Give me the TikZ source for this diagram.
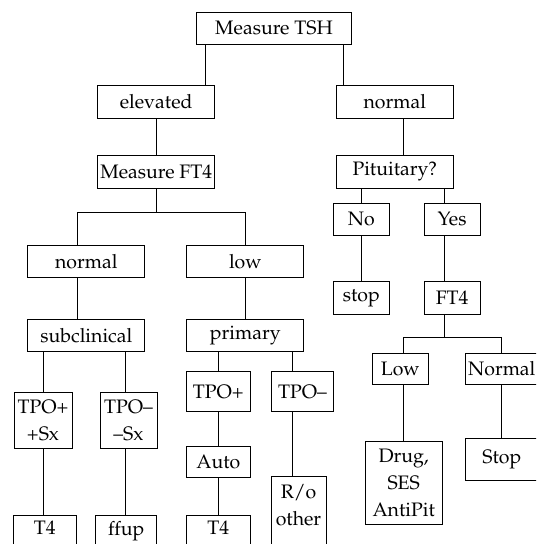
\documentclass[tikz,border=0pt]{standalone}
\usepackage[T1]{fontenc}
\usepackage{mathpazo}
\usetikzlibrary{calc}

% keeps the first line at the top of a box that runs off the page
\newcommand{\tailstrut}{\rule[-40pt]{0pt}{40pt}}

\begin{document}
\begin{tikzpicture}[x=1pt,y=-1pt]

% ----------------------------
% Styles
% ----------------------------
\tikzset{
	box/.style={draw=black,line width=0.8pt,inner xsep=2pt,inner ysep=6pt,align=center,font=\fontsize{19.5}{27}\selectfont},
	widebox/.style={box,minimum width=117pt,minimum height=32.4pt},
	smallbox/.style={box,minimum width=56pt,minimum height=32.2pt},
	cutbox/.style={box,anchor=north},
	wire/.style={line width=0.8pt}
}

\useasboundingbox (0,0) rectangle (536,544);
\clip (0,0) rectangle (536,544);

% ============================================================
% TOP: TSH and its two outcomes
% ============================================================
\node[box,minimum width=155pt,minimum height=32.4pt] (tsh) at (274,28.2) {Measure TSH};
\node[widebox] (elev) at (156.2,101.8) {elevated};
\node[widebox] (norm) at (394.8,101.8) {normal};
\node[widebox] (mft4) at (156.2,171.8) {Measure FT4};
\node[widebox] (pit)  at (394.8,171.8) {Pituitary?};

\draw[wire] (elev.north) ++(48.8,0) coordinate (tshL) -- (tshL |- tsh.south);
\draw[wire] (norm.north) ++(-51.2,0) coordinate (tshR) -- (tshR |- tsh.south);
\draw[wire] (elev.south) -- (mft4.north);
\draw[wire] (pit.north) ++(8.6,0) coordinate (normB) -- (normB |- norm.south);

% ============================================================
% LEFT: elevated TSH
% ============================================================
\node[widebox] (fnorm) at (86.3,261.2)  {normal};
\node[widebox] (flow)  at (245.3,261.2) {low};
\node[widebox] (subc)  at (86.3,335.5)  {subclinical};
\node[widebox] (prim)  at (245.3,335.5) {primary};

\draw[wire] (mft4.south) -- ++(0,23.8) coordinate (barA);
\draw[wire] ($(fnorm.north)+(-8.7,0)$) |- (barA) -| (flow.north);
\draw[wire] (subc.north) ++(-8.7,0) coordinate (fnormB) -- (fnormB |- fnorm.south);
\draw[wire] (flow.south) -- (prim.north);

% subclinical branch
\node[box,minimum width=58pt,minimum height=55.6pt] (tpoA) at (43,420.5)  {TPO+\\+Sx};
\node[box,minimum width=57pt,minimum height=55.6pt] (tpoB) at (128.5,420.5) {TPO--\\--Sx};
\node[cutbox,minimum width=62.7pt] (t4a)  at (44.7,515)  {T4\tailstrut};
\node[cutbox,minimum width=61pt]   (ffup) at (126.2,515) {ffup\tailstrut};

\draw[wire] (tpoA.north) -- (tpoA.north |- subc.south);
\draw[wire] (tpoB.north) ++(-3.5,0) coordinate (subcR) -- (subcR |- subc.south);
\draw[wire] (tpoA.south) -- (tpoA.south |- t4a.north);
\draw[wire] (tpoB.south) ++(-3.5,0) coordinate (tpoBB) -- (tpoBB |- ffup.north);

% primary branch
\node[box,minimum width=63.3pt,minimum height=40pt] (tpoC) at (218.3,391.7) {TPO+};
\node[box,minimum width=61.7pt,minimum height=40pt] (tpoD) at (302.5,391.7) {TPO--};
\node[box,minimum width=63.3pt,minimum height=31.7pt] (auto) at (218.3,461.8) {Auto};
\node[cutbox,minimum width=63.3pt] (t4b) at (218.3,515) {T4\tailstrut};
\node[cutbox,minimum width=55pt,inner ysep=8pt] (ro) at (298.5,475.7) {R/o\\other\tailstrut};

\draw[wire] (tpoC.north) -- (tpoC.north |- prim.south);
\draw[wire] (tpoD.north) ++(-10,0) coordinate (primR) -- (primR |- prim.south);
\draw[wire] (tpoC.south) -- (auto.north);
\draw[wire] (auto.south) -- (t4b.north);
\draw[wire] (tpoD.south) ++(-10,0) coordinate (tpoDB) -- (tpoDB |- ro.north);

% ============================================================
% RIGHT: normal TSH
% ============================================================
\node[smallbox] (no)   at (361.3,219.3) {No};
\node[smallbox] (yes)  at (452.1,219.3) {Yes};
\node[smallbox,minimum height=32.5pt] (stop) at (361.3,298.1) {stop};
\node[smallbox,minimum height=32.5pt] (ft4)  at (452.1,298.1) {FT4};

\draw[wire] (no.north) -- (no.north |- pit.south);
\draw[wire] (yes.north) ++(-7.7,0) coordinate (pitR) -- (pitR |- pit.south);
\draw[wire] (no.south) -- (stop.north);
\draw[wire] ($(yes.south)+(-7.7,0)$) -- ($(ft4.north)+(-7.7,0)$);

\node[smallbox,minimum height=31.4pt] (low) at (400.3,368.7) {Low};
\node[box,minimum width=72.5pt,minimum height=31.4pt] (nml) at (501.8,368.7) {Normal};
\node[box,minimum width=76.5pt,minimum height=83.6pt] (drug) at (403.7,482.8) {Drug,\\SES\\AntiPit};
\node[box,minimum width=72pt,minimum height=41.3pt] (stopB) at (501.8,459.3) {Stop};

\draw[wire] ($(ft4.south)+(-7.7,0)$) -- ++(0,22.9) coordinate (barB);
\draw[wire] ($(low.north)+(3,0)$) |- (barB) -| (nml.north);
\draw[wire] (drug.north) -- (drug.north |- low.south);
\draw[wire] (nml.south) -- (stopB.north);

\end{tikzpicture}
\end{document}
